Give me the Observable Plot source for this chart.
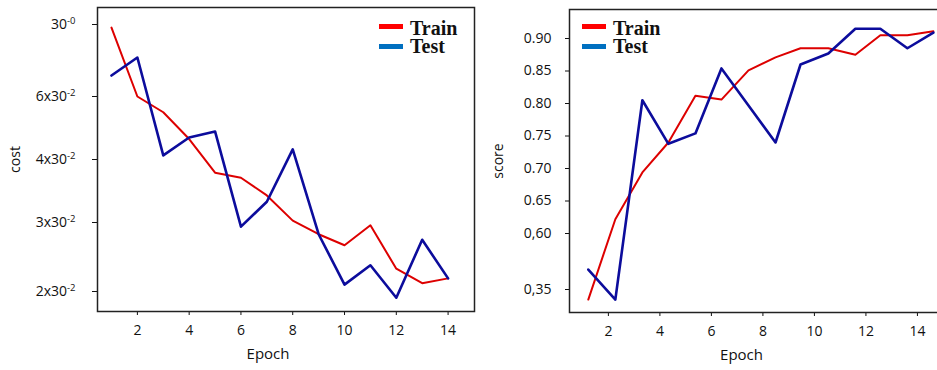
<!DOCTYPE html>
<html>
<head>
<meta charset="utf-8">
<script src="https://cdn.jsdelivr.net/npm/d3@7"></script>
<script src="https://cdn.jsdelivr.net/npm/@observablehq/plot@0.6"></script>
<style>
  html, body { margin: 0; padding: 0; background: #fff; }
  #wrap { position: relative; width: 937px; height: 370px; overflow: hidden; font-family: "Open Sans", sans-serif; }
  #left { position: absolute; left: 0; top: 0; width: 475px; height: 370px; }
  #right { position: absolute; left: 475px; top: 0; width: 470px; height: 370px; }
  .lg { position: absolute; font: bold 20px/16px "Liberation Serif", "Times New Roman", serif; color: #111; white-space: nowrap; }
  .sw { position: absolute; width: 24px; height: 5px; }
</style>
</head>
<body>
<div id="wrap">
  <div id="left"></div>
  <div id="right"></div>
</div>
<script>
// ---- data ----
const epochs = [1, 2, 3, 4, 5, 6, 7, 8, 9, 10, 11, 12, 13, 14];
const costTrain = [0.96, 0.060, 0.055, 0.0465, 0.0379, 0.0371, 0.0343, 0.0303, 0.0283, 0.0267, 0.0296, 0.0233, 0.0212, 0.0219];
const costTest  = [0.334, 0.569, 0.0413, 0.0470, 0.0489, 0.0294, 0.0333, 0.0432, 0.0283, 0.0210, 0.0238, 0.0191, 0.0275, 0.0219];
const costTicks = [1, 0.06, 0.04, 0.03, 0.02];
const costTickLabels = ["30^-0", "6x30^-2", "4x30^-2", "3x30^-2", "2x30^-2"];

const scoreEpochs = [1.22, 2.27, 3.32, 4.33, 5.38, 6.39, 7.44, 8.49, 9.46, 10.54, 11.59, 12.56, 13.61, 14.62];
const scoreTrain = [0.305, 0.622, 0.694, 0.740, 0.812, 0.806, 0.851, 0.871, 0.885, 0.885, 0.875, 0.905, 0.905, 0.911];
const scoreTest  = [0.439, 0.305, 0.805, 0.738, 0.754, 0.854, 0.797, 0.740, 0.860, 0.877, 0.915, 0.915, 0.885, 0.909];
const scoreTicks = [0.90, 0.85, 0.80, 0.75, 0.70, 0.65, 0.60, 0.35];
const scoreTickLabels = ["0.90", "0.85", "0.80", "0.75", "0.70", "0.65", "0,60", "0,35"];

const epochTicks = [2, 4, 6, 8, 10, 12, 14];
const seriesNames = ["Train", "Test"];
const seriesColors = ["#dd0000", "#0c0c9c"];
const legendColors = ["#ff0000", "#0070c0"];

const costRows = epochs.map((e, i) => ({epoch: e, train: costTrain[i], test: costTest[i]}));
const scoreRows = scoreEpochs.map((e, i) => ({epoch: e, train: scoreTrain[i], test: scoreTest[i]}));

function superscripts(svg) {
  d3.select(svg).selectAll("text").each(function () {
    const t = this.textContent;
    if (t.includes("^")) {
      const [b, e] = t.split("^");
      const sel = d3.select(this);
      sel.text(null);
      sel.append("tspan").text(b);
      sel.append("tspan").attr("dy", "-0.5em").attr("font-size", "0.68em").text(e);
    }
  });
}

const common = {
  height: 370,
  style: {fontFamily: "'Open Sans', sans-serif", fontSize: "14px", color: "#111", background: "transparent", overflow: "visible", maxWidth: "none"}
};

// ---- left: cost ----
const left = Plot.plot({
  ...common,
  width: 475,
  marginLeft: 97, marginRight: 1, marginTop: 7, marginBottom: 59,
  x: {type: "linear", domain: [0.46, 15.02], ticks: epochTicks, tickSize: 4, tickPadding: 10, label: null},
  y: {type: "linear", domain: [0.02, 0.03, 0.04, 0.06, 1], range: [291, 222, 159, 96, 24],
      ticks: costTicks, tickFormat: (d) => costTickLabels[costTicks.indexOf(d)],
      tickSize: 5, tickPadding: 17, label: "cost", labelArrow: "none", labelAnchor: "center", labelOffset: 87},
  marks: [
    Plot.line(costRows, {x: "epoch", y: "train", stroke: seriesColors[0], strokeWidth: 2}),
    Plot.line(costRows, {x: "epoch", y: "test", stroke: seriesColors[1], strokeWidth: 2.6}),
    Plot.text(["Epoch"], {frameAnchor: "bottom", dy: 47, dx: -18, fontSize: 15}),
    Plot.frame({stroke: "#222", strokeWidth: 1.5})
  ]
});
superscripts(left);
document.getElementById("left").append(left);

// ---- right: score ----
const right = Plot.plot({
  ...common,
  width: 470,
  marginLeft: 94, marginRight: 0, marginTop: 9, marginBottom: 58,
  x: {type: "linear", domain: [0.49, 15.09], ticks: epochTicks, tickSize: 4, tickPadding: 10, label: null},
  y: {type: "linear", domain: [0.35, 0.60, 0.90], range: [289, 233, 38],
      ticks: scoreTicks, tickFormat: (d) => scoreTickLabels[scoreTicks.indexOf(d)],
      tickSize: 4, tickPadding: 14, label: "score", labelArrow: "none", labelAnchor: "center", labelOffset: 76},
  marks: [
    Plot.line(scoreRows, {x: "epoch", y: "train", stroke: seriesColors[0], strokeWidth: 2}),
    Plot.line(scoreRows, {x: "epoch", y: "test", stroke: seriesColors[1], strokeWidth: 2.6}),
    Plot.text(["Epoch"], {frameAnchor: "bottom", dy: 47, dx: -16, fontSize: 15}),
    Plot.frame({stroke: "#222", strokeWidth: 1.5})
  ]
});
document.getElementById("right").append(right);

// ---- legends (HTML) ----
function legend(x, y) {
  const wrap = document.getElementById("wrap");
  seriesNames.forEach((name, i) => {
    const sw = document.createElement("div");
    sw.className = "sw";
    sw.style.left = x + "px";
    sw.style.top = (y + i * 20 - 2.5) + "px";
    sw.style.background = legendColors[i];
    wrap.append(sw);
    const t = document.createElement("div");
    t.className = "lg";
    t.textContent = name;
    t.style.left = (x + 31) + "px";
    t.style.top = (y - 6 + i * 18) + "px";
    wrap.append(t);
  });
}
legend(379, 26);
legend(582, 26);
</script>
</body>
</html>
